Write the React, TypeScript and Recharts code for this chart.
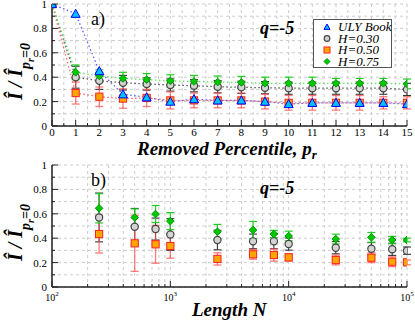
import React from "react";
import { CartesianGrid, ComposedChart, ErrorBar, Line, XAxis, YAxis } from "recharts";

// panel a) removed percentile p_r
const percentiles = [0, 1, 2, 3, 4, 5, 6, 7, 8, 9, 10, 11, 12, 13, 14, 15];
const ulyBook = [1.0, 0.92, 0.45, 0.26, 0.235, 0.2, 0.22, 0.21, 0.21, 0.2, 0.18, 0.19, 0.19, 0.19, 0.19, 0.18];
const h30Pct = [1.0, 0.4, 0.37, 0.355, 0.344, 0.336, 0.33, 0.322, 0.317, 0.314, 0.31, 0.31, 0.31, 0.31, 0.31, 0.3];
const h30PctErr = [0, 0.09, 0.07, 0.06, 0.05, 0.05, 0.05, 0.05, 0.05, 0.05, 0.05, 0.05, 0.05, 0.05, 0.05, 0.05];
const h50Pct = [1.0, 0.27, 0.24, 0.225, 0.23, 0.21, 0.21, 0.21, 0.21, 0.2, 0.19, 0.19, 0.19, 0.19, 0.19, 0.19];
const h50PctErr = [0, 0.09, 0.08, 0.08, 0.07, 0.07, 0.06, 0.06, 0.06, 0.06, 0.06, 0.06, 0.06, 0.06, 0.05, 0.05];
const h75Pct = [1.0, 0.44, 0.41, 0.39, 0.38, 0.37, 0.365, 0.36, 0.357, 0.35, 0.35, 0.35, 0.35, 0.35, 0.35, 0.345];
const h75PctErr = [0, 0.06, 0.05, 0.05, 0.05, 0.05, 0.05, 0.05, 0.05, 0.05, 0.05, 0.05, 0.04, 0.04, 0.04, 0.04];

// panel b) length N
const lengths = [250, 500, 750, 1000, 2500, 5000, 7500, 10000, 25000, 50000, 75000, 100000];
const h30Len = [0.57, 0.494, 0.475, 0.43, 0.385, 0.374, 0.374, 0.352, 0.322, 0.314, 0.309, 0.298];
const h30LenErr = [0.2, 0.15, 0.09, 0.13, 0.08, 0.06, 0.06, 0.05, 0.05, 0.05, 0.05, 0.03];
const h50Len = [0.434, 0.358, 0.35, 0.336, 0.23, 0.268, 0.262, 0.243, 0.221, 0.24, 0.207, 0.202];
const h50LenErr = [0.155, 0.23, 0.155, 0.1, 0.05, 0.04, 0.05, 0.03, 0.04, 0.04, 0.04, 0.02];
const h75Len = [0.645, 0.57, 0.598, 0.54, 0.453, 0.467, 0.434, 0.418, 0.393, 0.407, 0.385, 0.385];
const h75LenErr = [0.12, 0.07, 0.07, 0.07, 0.06, 0.07, 0.03, 0.04, 0.04, 0.04, 0.03, 0.015];

const pctTicks = [0, 0.5, 1, 1.5, 2, 2.5, 3, 3.5, 4, 4.5, 5, 5.5, 6, 6.5, 7, 7.5, 8, 8.5, 9, 9.5, 10, 10.5, 11, 11.5, 12, 12.5, 13, 13.5, 14, 14.5, 15];
const fracTicks = [0, 0.1, 0.2, 0.3, 0.4, 0.5, 0.6, 0.7, 0.8, 0.9, 1];
const lenTicks = [100, 200, 300, 400, 500, 600, 700, 800, 900, 1000, 2000, 3000, 4000, 5000, 6000, 7000, 8000, 9000, 10000, 20000, 30000, 40000, 50000, 60000, 70000, 80000, 90000, 100000];

const seriesNames = ["ULY Book", "H=0.30", "H=0.50", "H=0.75"];

const FONT = "Liberation Serif, Times New Roman, Times, serif";
const AXIS = { stroke: "#222", strokeWidth: 1.5 };

const pctData = percentiles.map((p, i) => ({
  p,
  uly: ulyBook[i],
  h30: h30Pct[i],
  h30e: h30PctErr[i],
  h50: h50Pct[i],
  h50e: h50PctErr[i],
  h75: h75Pct[i],
  h75e: h75PctErr[i],
}));

const lenData = lengths.map((n, i) => ({
  n,
  h30: h30Len[i],
  h30e: h30LenErr[i],
  h50: h50Len[i],
  h50e: h50LenErr[i],
  h75: h75Len[i],
  h75e: h75LenErr[i],
}));

function Triangle({ cx, cy, s = 4.5 }: any) {
  return (
    <path
      d={`M${cx},${cy - s} L${cx + s},${cy + s * 0.8} L${cx - s},${cy + s * 0.8} Z`}
      fill="#00bfff"
      stroke="#0000ff"
      strokeWidth={1}
    />
  );
}

function Circle({ cx, cy, r = 3.6 }: any) {
  return <circle cx={cx} cy={cy} r={r} fill="#d4d4d4" stroke="#444" strokeWidth={1.2} />;
}

function Square({ cx, cy, s = 3.6 }: any) {
  return (
    <rect x={cx - s} y={cy - s} width={s * 2} height={s * 2} fill="#ffa500" stroke="#ff2020" strokeWidth={1} />
  );
}

function Diamond({ cx, cy, s = 3.8 }: any) {
  return (
    <path
      d={`M${cx},${cy - s} L${cx + s},${cy} L${cx},${cy + s} L${cx - s},${cy} Z`}
      fill="#00c800"
      stroke="#009900"
      strokeWidth={1}
    />
  );
}

const MARKERS = [Triangle, Circle, Square, Diamond];

const dotOf = (Mark: any) => (props: any) => (
  <Mark key={`d-${props.index}`} cx={props.cx} cy={props.cy} />
);

const isMajorPct = (v: number) => Number.isInteger(v);
const isMajorFrac = (v: number) => Math.round(v * 10) % 2 === 0;
const isMajorLen = (v: number) => Number.isInteger(Math.log10(v));

function BottomTick({ x, y, payload, major, label }: any) {
  const m = major(payload.value);
  return (
    <g>
      <line x1={x} y1={y} x2={x} y2={y - (m ? 6 : 3)} stroke="#222" strokeWidth={1} />
      {m && label(x, y, payload.value)}
    </g>
  );
}

function TopTick({ x, y, payload, major }: any) {
  const m = major(payload.value);
  return <line x1={x} y1={y} x2={x} y2={y + (m ? 6 : 3)} stroke="#222" strokeWidth={1} />;
}

function LeftTick({ x, y, payload }: any) {
  const m = isMajorFrac(payload.value);
  return (
    <g>
      <line x1={x} y1={y} x2={x + (m ? 6 : 3)} y2={y} stroke="#222" strokeWidth={1} />
      {m && (
        <text x={x - 5} y={y + 4} textAnchor="end" fontSize={11} fontFamily={FONT} fill="#000">
          {payload.value}
        </text>
      )}
    </g>
  );
}

function RightTick({ x, y, payload }: any) {
  const m = isMajorFrac(payload.value);
  return <line x1={x} y1={y} x2={x - (m ? 6 : 3)} y2={y} stroke="#222" strokeWidth={1} />;
}

const pctLabel = (x: number, y: number, v: number) => (
  <text x={x} y={y + 10} textAnchor="middle" fontSize={11} fontFamily={FONT} fill="#000">
    {v}
  </text>
);

const lenLabel = (x: number, y: number, v: number) => (
  <text x={x} y={y + 14} textAnchor="middle" fontSize={10} fontFamily={FONT} fill="#000">
    10
    <tspan fontSize={7} dy={-5}>
      {Math.round(Math.log10(v))}
    </tspan>
  </text>
);

function YLabel({ x, y }: any) {
  return (
    <text
      transform={`translate(${x},${y}) rotate(-90)`}
      fontFamily={FONT}
      fontWeight="bold"
      fontStyle="italic"
      fontSize={20}
      fill="#000"
    >
      Î / Î
      <tspan fontSize={14} dy={8}>
        p
      </tspan>
      <tspan fontSize={10} dy={4}>
        r
      </tspan>
      <tspan fontSize={14} dy={-4}>
        =0
      </tspan>
    </text>
  );
}

function Frame({ xKey, xDomain, xTicks, xMajor, xLabel, xScale, xHeight }: any) {
  return [
    <CartesianGrid key="g" stroke="#cccccc" strokeDasharray="3 3" />,
    <XAxis
      key="xb"
      dataKey={xKey}
      type="number"
      scale={xScale}
      domain={xDomain}
      ticks={xTicks}
      interval={0}
      height={xHeight}
      tickSize={0}
      tickMargin={0}
      axisLine={AXIS}
      tick={(p: any) => <BottomTick {...p} major={xMajor} label={xLabel} />}
      allowDataOverflow
    />,
    <XAxis
      key="xt"
      xAxisId="top"
      orientation="top"
      dataKey={xKey}
      type="number"
      scale={xScale}
      domain={xDomain}
      ticks={xTicks}
      interval={0}
      height={0}
      tickSize={0}
      tickMargin={0}
      axisLine={AXIS}
      tick={(p: any) => <TopTick {...p} major={xMajor} />}
      allowDataOverflow
    />,
    <YAxis
      key="yl"
      type="number"
      domain={[0, 1]}
      ticks={fracTicks}
      interval={0}
      width={48}
      tickSize={0}
      tickMargin={0}
      axisLine={AXIS}
      tick={(p: any) => <LeftTick {...p} />}
      allowDataOverflow
    />,
    <YAxis
      key="yr"
      yAxisId="right"
      orientation="right"
      type="number"
      domain={[0, 1]}
      ticks={fracTicks}
      interval={0}
      width={0}
      tickSize={0}
      tickMargin={0}
      axisLine={AXIS}
      tick={(p: any) => <RightTick {...p} />}
      allowDataOverflow
    />,
  ];
}

function PercentileChart() {
  return (
    <ComposedChart width={415} height={160} data={pctData} margin={{ top: 4, right: 8, bottom: 0, left: 4 }}>
      {Frame({ xKey: "p", xDomain: [0, 15], xTicks: pctTicks, xMajor: isMajorPct, xLabel: pctLabel, xScale: "linear", xHeight: 34 })}
      <Line dataKey="h30" stroke="#555" strokeWidth={1.3} strokeDasharray="1.5 2.5" dot={dotOf(Circle)} activeDot={false} isAnimationActive={false}>
        <ErrorBar dataKey="h30e" width={4} stroke="#333" strokeWidth={1.1} />
      </Line>
      <Line dataKey="h50" stroke="#ff6a6a" strokeWidth={1.3} strokeDasharray="1.5 2.5" dot={dotOf(Square)} activeDot={false} isAnimationActive={false}>
        <ErrorBar dataKey="h50e" width={4} stroke="#ff5050" strokeOpacity={0.75} strokeWidth={1.3} />
      </Line>
      <Line dataKey="h75" stroke="#66e066" strokeWidth={1.3} strokeDasharray="1.5 2.5" dot={dotOf(Diamond)} activeDot={false} isAnimationActive={false}>
        <ErrorBar dataKey="h75e" width={4} stroke="#22cc22" strokeWidth={1.2} />
      </Line>
      <Line dataKey="uly" stroke="#6060ff" strokeWidth={1.3} strokeDasharray="1.5 2.5" dot={dotOf(Triangle)} activeDot={false} isAnimationActive={false} />
    </ComposedChart>
  );
}

function LengthChart() {
  return (
    <ComposedChart width={415} height={164} data={lenData} margin={{ top: 5, right: 8, bottom: 0, left: 4 }}>
      {Frame({ xKey: "n", xDomain: [100, 100000], xTicks: lenTicks, xMajor: isMajorLen, xLabel: lenLabel, xScale: "log", xHeight: 37 })}
      <Line dataKey="h30" stroke="none" dot={dotOf(Circle)} activeDot={false} isAnimationActive={false}>
        <ErrorBar dataKey="h30e" width={4} stroke="#333" strokeWidth={1.1} />
      </Line>
      <Line dataKey="h50" stroke="none" dot={dotOf(Square)} activeDot={false} isAnimationActive={false}>
        <ErrorBar dataKey="h50e" width={4} stroke="#ff5050" strokeOpacity={0.75} strokeWidth={1.3} />
      </Line>
      <Line dataKey="h75" stroke="none" dot={dotOf(Diamond)} activeDot={false} isAnimationActive={false}>
        <ErrorBar dataKey="h75e" width={4} stroke="#22cc22" strokeWidth={1.2} />
      </Line>
    </ComposedChart>
  );
}

function Legend() {
  return (
    <g>
      <rect x={313.5} y={19.5} width={78} height={48} fill="#fff" stroke="#555" strokeWidth={1} />
      {seriesNames.map((name, i) => {
        const Mark = MARKERS[i];
        const y = 27 + i * 11.5;
        return (
          <g key={name}>
            <Mark cx={327} cy={y} s={3} r={2.8} />
            <text x={338} y={y + 4} fontSize={13} fontStyle="italic" fontFamily={FONT} fill="#000">
              {name}
            </text>
          </g>
        );
      })}
    </g>
  );
}

export default function App() {
  return (
    <div style={{ position: "absolute", left: 0, top: 0, width: 415, height: 324, background: "#fff", fontFamily: FONT }}>
      <div style={{ position: "absolute", left: 0, top: 0 }}>
        <PercentileChart />
      </div>
      <div style={{ position: "absolute", left: 0, top: 160 }}>
        <LengthChart />
      </div>
      <svg width={415} height={324} style={{ position: "absolute", left: 0, top: 0, pointerEvents: "none" }}>
        <YLabel x={22} y={100} />
        <YLabel x={22} y={261} />
        <text x={91} y={25} fontSize={18} fontFamily={FONT}>a)</text>
        <text x={91} y={186} fontSize={18} fontFamily={FONT}>b)</text>
        <text x={260} y={34} fontSize={18} fontWeight="bold" fontStyle="italic" fontFamily={FONT}>q=-5</text>
        <text x={260} y={194} fontSize={18} fontWeight="bold" fontStyle="italic" fontFamily={FONT}>q=-5</text>
        <text x={137} y={155} fontSize={19} fontWeight="bold" fontStyle="italic" fontFamily={FONT}>
          Removed Percentile, p
          <tspan fontSize={13} dy={4}>r</tspan>
        </text>
        <text x={192} y={316} fontSize={19} fontWeight="bold" fontStyle="italic" fontFamily={FONT}>
          Length N
        </text>
        <Legend />
      </svg>
    </div>
  );
}
